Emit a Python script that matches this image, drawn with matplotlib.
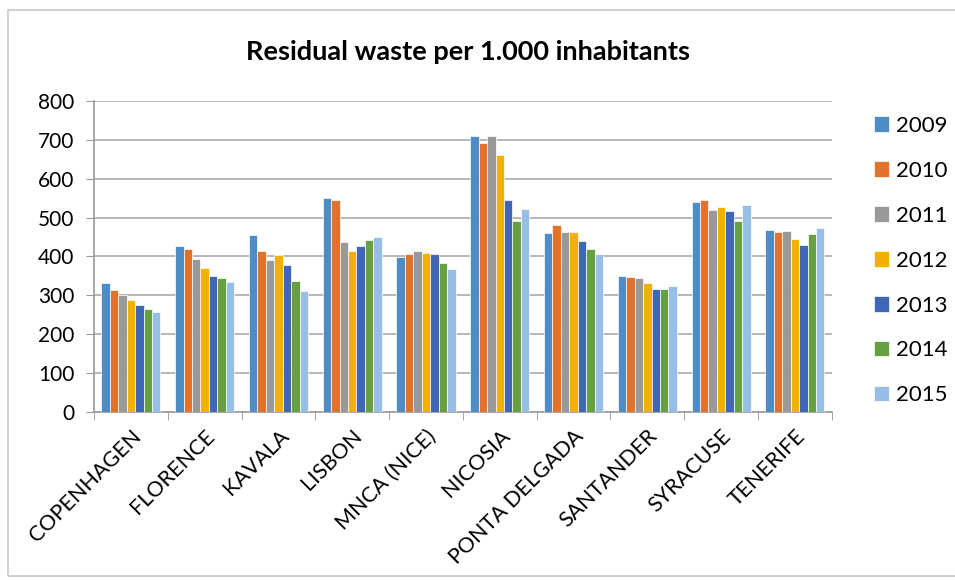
import matplotlib.pyplot as plt
import numpy as np
from matplotlib.patches import Rectangle

plt.rcParams['font.family'] = ['Lato', 'DejaVu Sans']

# данные, прочитанные с исходного графика
cities = ['COPENHAGEN', 'FLORENCE', 'KAVALA', 'LISBON', 'MNCA (NICE)',
          'NICOSIA', 'PONTA DELGADA', 'SANTANDER', 'SYRACUSE', 'TENERIFE']
years = ['2009', '2010', '2011', '2012', '2013', '2014', '2015']

v2009 = [331, 426, 456, 550, 398, 709, 460, 350, 539, 469]
v2010 = [314, 419, 413, 546, 407, 693, 480, 347, 546, 463]
v2011 = [300, 393, 390, 437, 413, 709, 463, 344, 519, 466]
v2012 = [288, 370, 404, 413, 410, 660, 463, 332, 526, 444]
v2013 = [276, 350, 377, 426, 407, 546, 440, 317, 516, 430]
v2014 = [266, 344, 337, 443, 384, 492, 420, 317, 492, 457]
v2015 = [257, 334, 311, 450, 367, 523, 407, 324, 532, 473]
series = [v2009, v2010, v2011, v2012, v2013, v2014, v2015]

colors = ['#4E8CC8', '#E0722B', '#999999', '#F2B100',
          '#3F67B5', '#66A040', '#97BFE6']

fig = plt.figure(figsize=(9.55, 5.8), dpi=100)
ax = fig.add_axes([0.0984, 0.2897, 0.7726, 0.5363])

# рамка вокруг всей диаграммы
fig.patches.append(Rectangle((8/955, 1-576/580), 1.0, 566/580,
                             transform=fig.transFigure, fill=False,
                             edgecolor='#c8c8c8', linewidth=1.2))

x = np.arange(len(cities))
w = 0.8/len(years)
for i, vals in enumerate(series):
    ax.bar(x - 0.4 + w*(i+0.5), vals, width=w, color=colors[i],
           edgecolor='white', linewidth=0.5, label=years[i], zorder=3)

ax.set_xlim(-0.5, len(cities)-0.5)
ax.set_ylim(0, 800)
ax.set_yticks(range(0, 801, 100))
ax.yaxis.grid(True, color='#aaaaaa', linewidth=1.2, zorder=0)

ax.set_xticks(x)
ax.set_xticklabels(cities, rotation=45, ha='right', rotation_mode='anchor',
                   fontsize=15.5)
ax.set_xticks(np.arange(-0.5, len(cities), 1.0), minor=True)
ax.tick_params(axis='x', which='major', length=0, pad=10)
ax.tick_params(axis='x', which='minor', length=6, color='#999999')
ax.tick_params(axis='y', length=6, color='#999999', labelsize=15, pad=8)

for s in ['top', 'right']:
    ax.spines[s].set_visible(False)
for s in ['left', 'bottom']:
    ax.spines[s].set_color('#999999')
    ax.spines[s].set_linewidth(1.2)

fig.text(0.49, 0.91, 'Residual waste per 1.000 inhabitants',
         ha='center', va='center', fontsize=19.5, fontweight='bold')

ax.legend(loc='upper left', bbox_to_anchor=(0.915, 0.80),
          bbox_transform=fig.transFigure, frameon=False,
          borderaxespad=0, borderpad=0,
          fontsize=16, handlelength=0.7, handleheight=0.7,
          handletextpad=0.3, labelspacing=1.12)

fig.savefig('out.png', dpi=100)
